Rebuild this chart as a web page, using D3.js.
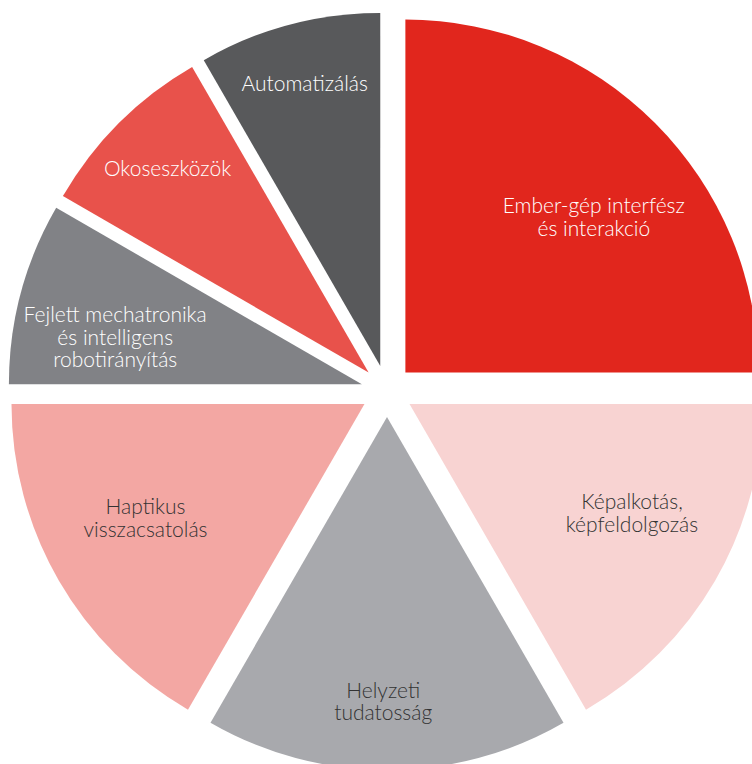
<!DOCTYPE html>
<html lang="hu">
<head>
    <meta charset="UTF-8">
    <title>Pie chart</title>
    <style>
        body { margin: 0; padding: 0; background: #fff; overflow: hidden; }
        svg { display: block; }
        text { font-family: Lato, "Open Sans", sans-serif; font-weight: 300; font-size: 21px; }
    </style>
    <script src="https://d3js.org/d3.v7.min.js"></script>
</head>
<body>
    <script>
        const width = 752;
        const height = 764;

        // szeletek (óramutató járásával, 12 órától)
        const categories = [
            ["Ember-gép interfész", "és interakció"],
            ["Képalkotás,", "képfeldolgozás"],
            ["Helyzeti", "tudatosság"],
            ["Haptikus", "visszacsatolás"],
            ["Fejlett mechatronika", "és intelligens", "robotirányítás"],
            ["Okoseszközök"],
            ["Automatizálás"]
        ];
        const values = [3, 2, 2, 2, 1, 1, 1];
        const colors = ["#e1261d", "#f8d3d2", "#a8a9ad", "#f3a7a3", "#818286", "#e8524b", "#58595b"];
        const textColors = ["#ffffff", "#333333", "#333333", "#333333", "#ffffff", "#ffffff", "#ffffff"];

        const cx = 387, cy = 391;
        const radius = 353;
        const explode = 26;
        // felirat helye: távolság a középponttól és szögeltérés a szelet felezőjétől (fok)
        const labelRadius = [270, 274, 311, 273, 277, 312, 318];
        const labelNudge = [5, -3.4, 0.7, 2.2, -3.9, 0.3, 0];
        const lineHeight = 22.5;

        const svg = d3.select("body").append("svg")
            .attr("width", width)
            .attr("height", height);

        const g = svg.append("g").attr("transform", `translate(${cx},${cy})`);

        const pie = d3.pie().sort(null).value(d => d);
        const arcs = pie(values);

        const arc = d3.arc().innerRadius(0).outerRadius(radius);

        const slices = g.selectAll("g.slice")
            .data(arcs)
            .enter().append("g")
            .attr("class", "slice")
            .attr("transform", d => {
                const mid = (d.startAngle + d.endAngle) / 2;
                return `translate(${Math.sin(mid) * explode},${-Math.cos(mid) * explode})`;
            });

        slices.append("path")
            .attr("d", arc)
            .attr("fill", (d, i) => colors[i]);

        // feliratok
        g.selectAll("text.label")
            .data(arcs)
            .enter().append("text")
            .attr("class", "label")
            .attr("text-anchor", "middle")
            .attr("fill", (d, i) => textColors[i])
            .each(function(d, i) {
                const mid = (d.startAngle + d.endAngle) / 2 + labelNudge[i] * Math.PI / 180;
                const x = Math.sin(mid) * labelRadius[i];
                const y = -Math.cos(mid) * labelRadius[i];
                const lines = categories[i];
                const top = y - (lines.length - 1) * lineHeight / 2 + 7;
                d3.select(this).selectAll("tspan")
                    .data(lines)
                    .enter().append("tspan")
                    .attr("x", x)
                    .attr("y", (l, j) => top + j * lineHeight)
                    .text(l => l);
            });
    </script>
</body>
</html>
